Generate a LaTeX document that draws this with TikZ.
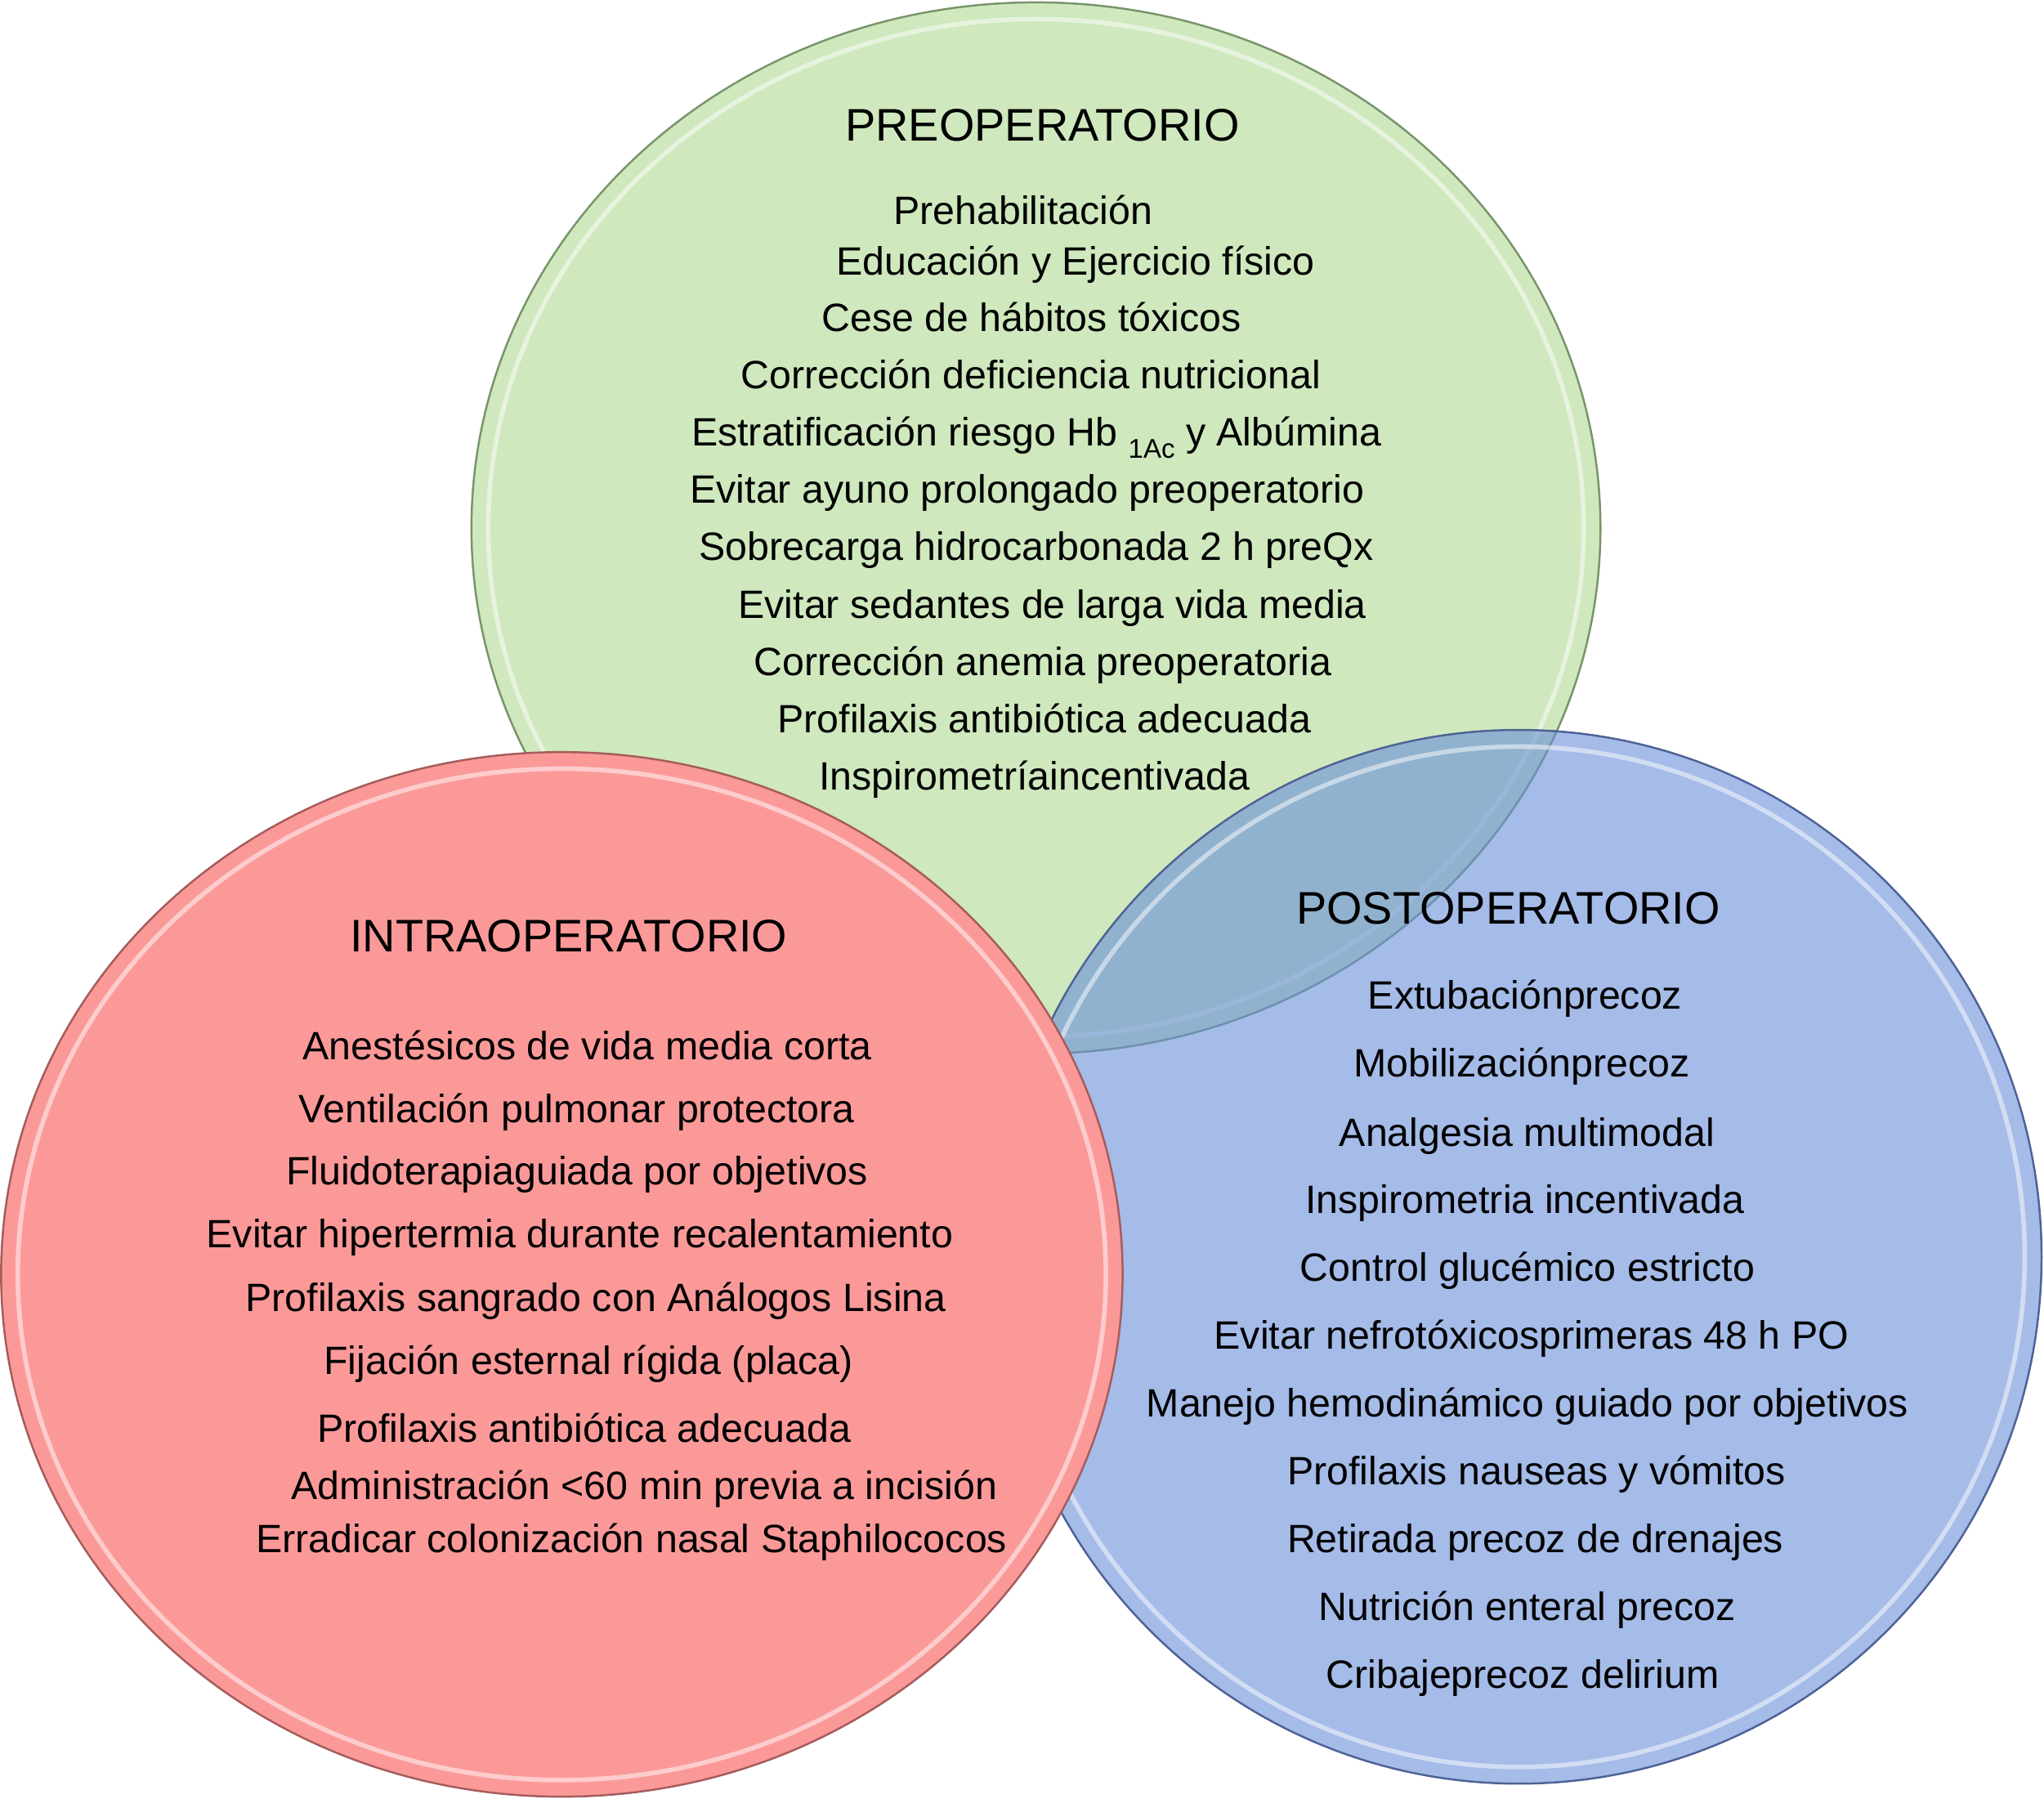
\documentclass[tikz,border=0pt]{standalone}
\usepackage{fontspec}
\setmainfont{Liberation Sans}
\definecolor{gfill}{RGB}{207,232,190}
\definecolor{gline}{RGB}{120,148,108}
\definecolor{rfill}{RGB}{251,153,153}
\definecolor{rline}{RGB}{165,92,92}
\definecolor{bfill}{RGB}{105,142,217}
\definecolor{bline}{RGB}{78,98,150}
\tikzset{
  body/.style={anchor=base west, inner sep=0pt, font=\fontsize{13.75}{16}\selectfont},
  ttl/.style={anchor=base west, inner sep=0pt, font=\fontsize{15.9}{18}\selectfont},
  rim/.style={draw=white, line width=1.6pt, opacity=0.5},
}
\newcommand{\subAc}{\raisebox{-0.32em}{\fontsize{9.4}{10}\selectfont 1Ac}}
\begin{document}
\begin{tikzpicture}[x=0.01595cm, y=-0.01595cm]
\useasboundingbox (0,0) rectangle (1568,1379.9);
% green (preoperatorio)
\path[fill=gfill, draw=gline, line width=0.7pt] (794.7,405) ellipse [x radius=6.905cm, y radius=6.429cm];
\path[rim] (794.7,405) ellipse [x radius=6.70cm, y radius=6.225cm];
% blue (postoperatorio), translucent
\path[fill=bfill, fill opacity=0.6, draw=bline, line width=0.7pt] (1165,964) ellipse [x radius=6.396cm, y radius=6.444cm];
\path[rim] (1165,964) ellipse [x radius=6.19cm, y radius=6.24cm];
% red (intraoperatorio)
\path[fill=rfill, draw=rline, line width=0.7pt] (431,977.5) ellipse [x radius=6.859cm, y radius=6.388cm];
\path[rim] (431,977.5) ellipse [x radius=6.655cm, y radius=6.185cm];

% PREOPERATORIO
\node[ttl]  (preT) at (648,108) {PREOPERATORIO};
\node[body] (pre1) at (685,172) {Prehabilitación};
\node[body] (pre2) at (641,211) {Educación y Ejercicio físico};
\node[body] (pre3) at (630,254) {Cese de hábitos tóxicos};
\node[body] (pre4) at (568,298) {Corrección deficiencia nutricional};
\node[body] (pre5) at (530,342) {Estratificación riesgo Hb \subAc{} y Albúmina};
\node[body] (pre6) at (529,386) {Evitar ayuno prolongado preoperatorio};
\node[body] (pre7) at (536,430) {Sobrecarga hidrocarbonada 2 h preQx};
\node[body] (pre8) at (566,474) {Evitar sedantes de larga vida media};
\node[body] (pre9) at (578,518) {Corrección anemia preoperatoria};
\node[body] (pre10) at (596,562) {Profilaxis antibiótica adecuada};
\node[body] (pre11) at (628,606) {Inspirometríaincentivada};

% INTRAOPERATORIO
\node[ttl]  (intT) at (268,730) {INTRAOPERATORIO};
\node[body] (int1) at (232,813) {Anestésicos de vida media corta};
\node[body] (int2) at (229,861) {Ventilación pulmonar protectora};
\node[body] (int3) at (219,909) {Fluidoterapiaguiada por objetivos};
\node[body] (int4) at (158,957) {Evitar hipertermia durante recalentamiento};
\node[body] (int5) at (188,1006) {Profilaxis sangrado con Análogos Lisina};
\node[body] (int6) at (248,1054) {Fijación esternal rígida (placa)};
\node[body] (int7) at (243,1106) {Profilaxis antibiótica adecuada};
\node[body] (int8) at (223,1150) {Administración <60 min previa a incisión};
\node[body] (int9) at (196,1191) {Erradicar colonización nasal Staphilococos};

% POSTOPERATORIO
\node[ttl]  (posT) at (994,709) {POSTOPERATORIO};
\node[body] (pos1) at (1049,774) {Extubaciónprecoz};
\node[body] (pos2) at (1038,826) {Mobilizaciónprecoz};
\node[body] (pos3) at (1027,879) {Analgesia multimodal};
\node[body] (pos4) at (1001,931) {Inspirometria incentivada};
\node[body] (pos5) at (997,983) {Control glucémico estricto};
\node[body] (pos6) at (931,1035) {Evitar nefrotóxicosprimeras 48 h PO};
\node[body] (pos7) at (879,1087) {Manejo hemodinámico guiado por objetivos};
\node[body] (pos8) at (987,1139) {Profilaxis nauseas y vómitos};
\node[body] (pos9) at (987,1191) {Retirada precoz de drenajes};
\node[body] (pos10) at (1011,1243) {Nutrición enteral precoz};
\node[body] (pos11) at (1017,1295) {Cribajeprecoz delirium};
\end{tikzpicture}
\end{document}
